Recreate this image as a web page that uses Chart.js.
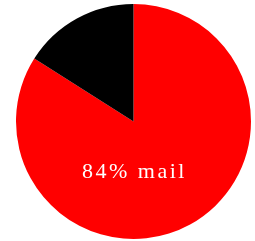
<!DOCTYPE html>
<html>
<head>
<meta charset="utf-8">
<style>
html,body{margin:0;padding:0;background:#fff;}
#wrap{width:255px;height:241px;}
</style>
<script src="https://cdn.jsdelivr.net/npm/chart.js@4/dist/chart.umd.min.js"></script>
</head>
<body>
<div id="wrap"><canvas id="c" width="255" height="241"></canvas></div>
<script>
const categories = ["mail", "other"];
const values = [84, 16];
const colors = ["#ff0000", "#000000"];
const labelText = values[0] + "% " + categories[0];

const labelPlugin = {
  id: "sliceLabel",
  afterDatasetsDraw(chart) {
    const arc = chart.getDatasetMeta(0).data[0];
    if (!arc) return;
    const ctx = chart.ctx;
    ctx.save();
    ctx.fillStyle = "#ffffff";
    ctx.font = "22px 'Liberation Serif', 'Times New Roman', serif";
    ctx.textAlign = "center";
    ctx.textBaseline = "middle";
    if ("letterSpacing" in ctx) ctx.letterSpacing = "2.5px";
    ctx.fillText(labelText, arc.x + 1, arc.y + arc.outerRadius * 0.43);
    ctx.restore();
  }
};

new Chart(document.getElementById("c"), {
  type: "pie",
  data: {
    labels: categories,
    datasets: [{
      data: values,
      backgroundColor: colors,
      borderWidth: 0
    }]
  },
  options: {
    responsive: false,
    animation: false,
    layout: { padding: { left: 15, right: 3, top: 4, bottom: 2 } },
    plugins: {
      legend: { display: false },
      tooltip: { enabled: false }
    }
  },
  plugins: [labelPlugin]
});
</script>
</body>
</html>
